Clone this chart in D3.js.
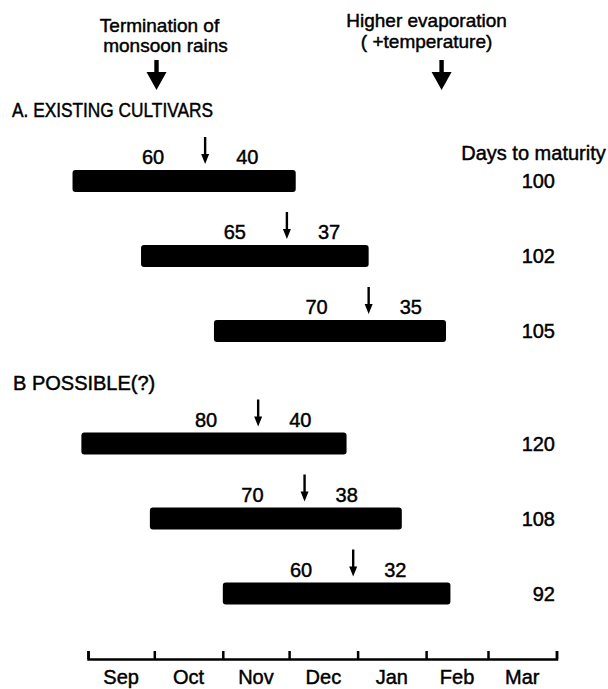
<!DOCTYPE html>
<html><head><meta charset="utf-8">
<script src="https://cdn.jsdelivr.net/npm/d3@7"></script>
<style>
html,body{margin:0;padding:0;background:#fff;}
svg{display:block;}
text{font-family:"Liberation Sans", Arial, sans-serif; fill:#000; stroke:#000; stroke-width:0.45px;}
</style></head><body>
<script>
// ---------------- data ----------------
const groups = ["A", "A", "A", "B", "B", "B"];
const groupTitles = ["A. EXISTING CULTIVARS", "B POSSIBLE(?)"];
const sowingDates = ["1982-08-25", "1982-09-25", "1982-10-28", "1982-08-29", "1982-09-29", "1982-11-01"];
const floweringDates = ["1982-10-24", "1982-11-30", "1983-01-06", "1982-11-17", "1982-12-08", "1982-12-30"];
const maturityDates = ["1982-12-04", "1983-01-06", "1983-02-10", "1982-12-27", "1983-01-21", "1983-02-12"];
const daysBefore = [60, 65, 70, 80, 70, 60];
const daysAfter = [40, 37, 35, 40, 38, 32];
const daysToMaturity = [100, 102, 105, 120, 108, 92];
const maturityTitle = "Days to maturity";
const months = ["Sep", "Oct", "Nov", "Dec", "Jan", "Feb", "Mar"];
const seasonStart = "1982-09-01", seasonEnd = "1983-04-01";
const eventDates = ["1982-10-02", "1983-02-08"];
const eventLines = [["Termination of", "monsoon rains"], ["Higher evaporation", "( +temperature)"]];

// ---------------- layout ----------------
const W = 608, H = 689;
const parse = d3.timeParse("%Y-%m-%d");
const svg = d3.select("body").append("svg").attr("width", W).attr("height", H);

const x = d3.scaleTime().domain([parse(seasonStart), parse(seasonEnd)]).range([88, 556.5]);
const slot = (i) => groups.slice(0, i + 1).filter(g => g === groups[i]).length - 1 + (groups[i] === "B" ? 3.5 : 0);
const y = d3.scaleLinear().domain([0, 1]).range([181, 256]);
const barH = 22;

const rows = groups.map((g, i) => ({
  g, s: parse(sowingDates[i]), f: parse(floweringDates[i]), e: parse(maturityDates[i]),
  b: daysBefore[i], a: daysAfter[i], t: daysToMaturity[i], cy: y(slot(i))
}));

// axis
const axis = d3.axisBottom(x)
  .tickValues(d3.timeMonth.range(parse(seasonStart), d3.timeDay.offset(parse(seasonEnd), 1)))
  .tickSizeInner(-8).tickSizeOuter(-8).tickFormat("");
const gAxis = svg.append("g").attr("transform", "translate(0,659)").call(axis);
gAxis.selectAll("path,line").attr("stroke", "#000").attr("stroke-width", 2.5).attr("fill", "none");

const monthStarts = d3.timeMonth.range(parse(seasonStart), parse(seasonEnd));
svg.append("g").selectAll("text").data(monthStarts).join("text")
  .attr("x", d => x(new Date((+d + +d3.timeMonth.offset(d, 1)) / 2)))
  .attr("y", 684)
  .attr("text-anchor", "middle").attr("font-size", 20)
  .text((d, i) => months[i]);

// event annotations (top)
const evShift = [3, -15];
const evY = [[32, 52], [27, 47.5]];
eventDates.forEach((d, k) => {
  const ex = x(parse(d));
  const g = svg.append("g");
  eventLines[k].forEach((t, j) => {
    g.append("text").attr("x", ex + evShift[k] + (j === 1 && k === 0 ? 6 : 0)).attr("y", evY[k][j])
      .attr("text-anchor", "middle").attr("font-size", 19).text(t);
  });
  g.append("path")
    .attr("d", `M${ex - 2.2},60 H${ex + 2.2} V72 H${ex + 10} L${ex},90 L${ex - 10},72 H${ex - 2.2} Z`)
    .attr("fill", "#000");
});

// group titles
svg.append("text").attr("x", 12).attr("y", 117).attr("font-size", 20)
  .attr("textLength", 201).attr("lengthAdjust", "spacingAndGlyphs").text(groupTitles[0]);
svg.append("text").attr("x", 13).attr("y", 390).attr("font-size", 20).text(groupTitles[1]);

// maturity header
svg.append("text").attr("x", 533.5).attr("y", 160).attr("text-anchor", "middle")
  .attr("font-size", 20).text(maturityTitle);

// bars
const gRows = svg.append("g").selectAll("g").data(rows).join("g");
gRows.append("rect")
  .attr("x", d => x(d.s)).attr("width", d => x(d.e) - x(d.s))
  .attr("y", d => d.cy - barH / 2).attr("height", barH)
  .attr("rx", 3).attr("fill", "#000");

// small arrows (flowering)
gRows.append("path").attr("d", d => {
  const ax = x(d.f), tip = d.cy - barH / 2 - 6, top = tip - 27;
  return `M${ax - 1.2},${top} H${ax + 1.2} V${tip - 10} H${ax + 4} L${ax},${tip} L${ax - 4},${tip - 10} H${ax - 1.2} Z`;
}).attr("fill", "#000");

gRows.append("text")
  .attr("x", d => x(d.f) - 41).attr("y", d => d.cy - barH / 2 - 6)
  .attr("text-anchor", "end").attr("font-size", 20).text(d => d.b);
gRows.append("text")
  .attr("x", d => x(d.f) + 31).attr("y", d => d.cy - barH / 2 - 6)
  .attr("text-anchor", "start").attr("font-size", 20).text(d => d.a);

// days to maturity column
gRows.append("text")
  .attr("x", 555).attr("y", d => d.cy + 7)
  .attr("text-anchor", "end").attr("font-size", 20).text(d => d.t);
</script>
</body></html>
